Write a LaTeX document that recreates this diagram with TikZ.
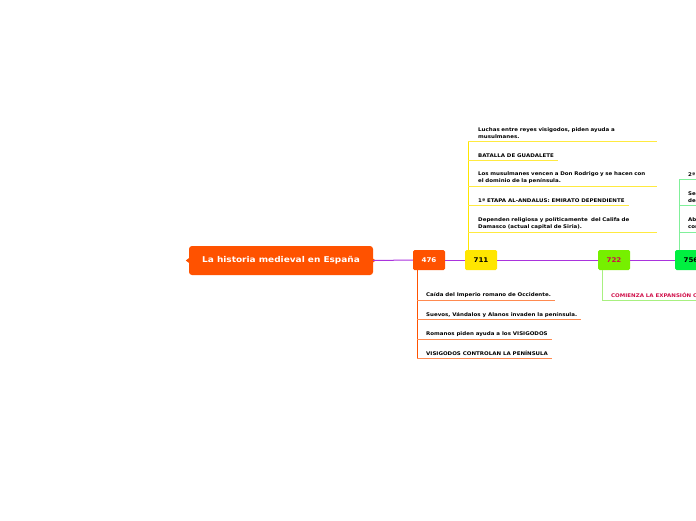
\documentclass[tikz,border=0pt]{standalone}
\usepackage{fontspec}
\setmainfont[FakeStretch=1.1]{DejaVu Sans}
\newfontfamily\titlefont[FakeStretch=1.12]{DejaVu Sans}
\definecolor{morange}{HTML}{FF5200}
\definecolor{mpurple}{HTML}{AA33DD}
\definecolor{myellow}{HTML}{FFE600}
\definecolor{mlime}{HTML}{76F000}
\definecolor{mgreen}{HTML}{00F040}
\definecolor{mcrimson}{HTML}{D0104A}
\definecolor{lorange}{HTML}{FF8A50}
\definecolor{lyellow}{HTML}{FFEA40}
\definecolor{llime}{HTML}{A8F080}
\definecolor{lgreen}{HTML}{80F09A}
\begin{document}
\begin{tikzpicture}[x=1pt,y=-1pt,
  topic/.style={rectangle, rounded corners=1.5pt, minimum width=32pt, minimum height=20pt, inner sep=0pt, font=\fontsize{6.5}{7}\selectfont\bfseries},
  item/.style={anchor=south west, inner xsep=0pt, inner ysep=1.8pt, font=\fontsize{5}{7}\selectfont\bfseries, align=left},
  link/.style={mpurple, line width=1pt}]
\useasboundingbox (0,0) rectangle (696,520);
\clip (0,0) rectangle (696,520);
% main node
\node[fill=morange, rounded corners=3pt, minimum width=184pt, minimum height=29pt, inner sep=0pt, text=white, font=\titlefont\fontsize{8}{9}\selectfont\bfseries] (main) at (281,260.5) {La historia medieval en España};
\fill[morange] ([xshift=1pt]main.west) ++(0,-3) -- ++(-4,3) -- ++(4,3) -- cycle;
\fill[morange] ([xshift=-1pt]main.east) ++(0,-2.5) -- ++(3.5,2.5) -- ++(-3.5,2.5) -- cycle;
% topic nodes
\node[topic, fill=morange, text=white] (n476) at (429,260) {476};
\node[topic, fill=myellow, text=black] (n711) at (481,260) {711};
\node[topic, fill=mlime, text=mcrimson] (n722) at (614,260) {722};
\node[topic, fill=mgreen, text=black] (n756) at (691,260) {756};
\coordinate (endr) at (700,260);
\draw[link] (main.east) -- (n476.west);
\draw[link] (n476.east) -- (n711.west);
\draw[link] (n711.east) -- (n722.west);
\draw[link] (n722.east) -- (n756.west);
\draw[link] (n756.east) -- (endr);
% 711 branch
\coordinate (y0) at (468,250);
\coordinate (y1) at (468,141);
\draw[myellow, line width=0.8pt] (y0) -- (y1);
\node[item, text width=175pt] (a1) at (478,141) {Luchas entre reyes visigodos, piden ayuda a\\musulmanes.};
\node[item] (a2) at (478,160) {BATALLA DE GUADALETE};
\node[item, text width=175pt] (a3) at (478,186) {Los musulmanes vencen a Don Rodrigo y se hacen con\\el dominio de la península.};
\node[item] (a4) at (478,205) {1ª ETAPA AL-ANDALUS: EMIRATO DEPENDIENTE};
\node[item, text width=175pt] (a5) at (478,232) {Dependen religiosa y políticamente\ \ del Califa de\\Damasco (actual capital de Siria).};
\foreach \n/\y in {a1/141,a2/160,a3/186,a4/205,a5/232}{
  \draw[lyellow, line width=0.7pt] (468,\y) -- ([xshift=4pt]\n.south east);
}
% 476 branch
\coordinate (o0) at (417,270);
\coordinate (o1) at (417,358);
\draw[morange, line width=0.8pt] (o0) -- (o1);
\node[item] (b1) at (426,300) {Caída del Imperio romano de Occidente.};
\node[item] (b2) at (426,319.5) {Suevos, Vándalos y Alanos invaden la península.};
\node[item] (b3) at (426,339) {Romanos piden ayuda a los VISIGODOS};
\node[item] (b4) at (426,358) {VISIGODOS CONTROLAN LA PENÍNSULA};
\foreach \n/\y in {b1/300,b2/319.5,b3/339,b4/358}{
  \draw[lorange, line width=0.7pt] (417,\y) -- ([xshift=4pt]\n.south east);
}
% 722 branch
\coordinate (g0) at (602,270);
\coordinate (g1) at (602,300);
\node[item, text=mcrimson] (c1) at (611,300) {COMIENZA LA EXPANSIÓN CRISTIANA};
\draw[llime, line width=0.7pt] (g0) -- (g1) -- ([xshift=4pt]c1.south east);
% 756 branch
\coordinate (h0) at (679,250);
\coordinate (h1) at (679,179);
\draw[lgreen, line width=0.8pt] (h0) -- (h1);
\node[item] (d1) at (688,179) {2ª ETAPA AL-ANDALUS: EMIRATO INDEPENDIENTE};
\node[item, text width=175pt] (d2) at (688,205) {Se independizan políticamente del Califa\\de Damasco.};
\node[item, text width=175pt] (d3) at (688,232) {Abderramán I se proclama emir\\con capital en Córdoba.};
\foreach \n/\y in {d1/179,d2/205,d3/232}{
  \draw[lgreen, line width=0.7pt] (679,\y) -- ([xshift=4pt]\n.south east);
}
\end{tikzpicture}
\end{document}
